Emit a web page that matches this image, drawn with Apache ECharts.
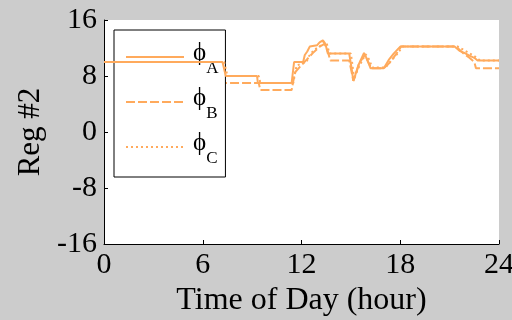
<!DOCTYPE html>
<html><head><meta charset="utf-8">
<script src="https://cdn.jsdelivr.net/npm/echarts@6/dist/echarts.min.js"></script>
<style>html,body{margin:0;padding:0;background:#cccccc;}#c{width:512px;height:320px;}</style>
</head><body><div id="c"></div>
<script>
const seriesNames = ['A', 'B', 'C'];
const xTicks = [0, 6, 12, 18, 24];
const yTicks = [-16, -8, 0, 8, 16];
const hA = [0, 7.2, 7.3, 7.4, 9.3, 9.35, 11.4, 11.55, 12.1, 12.2, 12.35, 12.5, 12.95, 13.1, 13.3, 13.45, 13.6, 14.9, 15.05, 15.15, 15.25, 15.45, 15.8, 16.0, 16.2, 17.0, 17.3, 17.6, 18.0, 21.3, 21.6, 21.9, 22.2, 22.5, 22.7, 24];
const vA = [10, 10, 9, 8, 8, 7, 7, 10, 10, 11, 11.5, 12.2, 12.4, 12.8, 13.1, 12.6, 11.2, 11.2, 9, 7.3, 8, 9.5, 11.3, 10.3, 9.1, 9.1, 10.3, 11.2, 12.2, 12.2, 11.6, 11.3, 10.9, 10.6, 10.2, 10.2];
const hB = [0, 7.0, 7.2, 9.4, 9.5, 11.4, 11.6, 11.9, 12.3, 12.7, 13.1, 13.4, 13.6, 13.75, 14.9, 15.05, 15.15, 15.3, 15.5, 15.85, 16.05, 16.25, 17.0, 17.4, 17.8, 18.05, 21.4, 21.8, 22.2, 22.5, 22.6, 24];
const vB = [10, 10, 7, 7, 6, 6, 8.5, 9.3, 10.3, 11.3, 12.2, 12.6, 11.5, 10.2, 10.2, 8.5, 7.3, 8.2, 9.8, 11, 10, 9.1, 9.1, 10, 11.3, 12.2, 12.2, 11.3, 10.6, 10, 9.1, 9.1];
const hC = [0, 7.3, 7.4, 7.5, 9.4, 9.5, 11.5, 11.7, 12.3, 12.45, 12.6, 12.8, 13.1, 13.25, 13.4, 13.55, 13.7, 15.0, 15.1, 15.2, 15.3, 15.55, 15.9, 16.1, 16.3, 17.1, 17.45, 17.8, 18.15, 21.5, 21.8, 22.1, 22.4, 22.65, 22.85, 24];
const vC = [10, 10, 9, 8, 8, 7, 7, 9.5, 10, 10.8, 11.3, 11.8, 12.2, 12.6, 12.9, 12.5, 11.2, 11.2, 9.5, 7.5, 8.3, 9.6, 11.1, 10.4, 9.2, 9.2, 10.2, 11.1, 12.2, 12.2, 11.8, 11.4, 11, 10.6, 10.2, 10.2];

const pairs = (h, v) => h.map((x, i) => [x, v[i]]);
const font = 'Liberation Serif';
const orange = '#ffaa5c';
const chart = echarts.init(document.getElementById('c'), null, {renderer: 'canvas'});
const mk = (name, h, v, type, z) => ({
  name, type: 'line', data: pairs(h, v), showSymbol: false, symbol: 'none', z,
  lineStyle: {color: orange, width: 2, type}, itemStyle: {color: orange}, animation: false
});
chart.setOption({
  backgroundColor: '#cccccc',
  animation: false,
  grid: {left: 104, right: 13, top: 20, bottom: 76, show: true, backgroundColor: '#ffffff', borderWidth: 0,
         outerBoundsMode: 'none', containLabel: false},
  xAxis: {
    type: 'value', min: xTicks[0], max: xTicks[xTicks.length - 1], interval: 6,
    axisLine: {onZero: false, lineStyle: {color: '#000', width: 1}},
    axisTick: {inside: true, length: 4, lineStyle: {color: '#000'}},
    splitLine: {show: false},
    axisLabel: {color: '#000', fontFamily: font, fontSize: 30, margin: 6},
    name: 'Time of Day (hour)', nameLocation: 'middle', nameGap: 40,
    nameTextStyle: {color: '#000', fontFamily: font, fontSize: 32}
  },
  yAxis: {
    type: 'value', min: yTicks[0], max: yTicks[yTicks.length - 1], interval: 8,
    axisLine: {onZero: false, lineStyle: {color: '#000', width: 1}},
    axisTick: {inside: true, length: 4, lineStyle: {color: '#000'}},
    splitLine: {show: false},
    axisLabel: {color: '#000', fontFamily: font, fontSize: 30, margin: 7},
    name: 'Reg #2', nameLocation: 'middle', nameGap: 56,
    nameTextStyle: {color: '#000', fontFamily: font, fontSize: 31}
  },
  legend: {
    orient: 'vertical', left: 114, top: 30, backgroundColor: '#ffffff', borderColor: '#000', borderWidth: 1,
    borderRadius: 0, itemWidth: 58, itemHeight: 14, itemGap: 3, padding: [6, 7, 9, 11],
    itemStyle: {opacity: 0},
    data: seriesNames,
    formatter: n => '{p|ϕ}{s|' + n + '}',
    textStyle: {
      color: '#000', fontFamily: font, lineHeight: 42,
      rich: {
        p: {fontSize: 25, fontFamily: font, height: 24, lineHeight: 42, padding: [0, 0, 8, 4]},
        s: {fontSize: 17, fontFamily: font, height: 17, lineHeight: 42, padding: [24, 0, 1, 0]}
      }
    }
  },
  series: [mk('A', hA, vA, 'solid', 5), mk('B', hB, vB, [9, 3], 3), mk('C', hC, vC, [2, 3], 4)]
});
</script></body></html>
